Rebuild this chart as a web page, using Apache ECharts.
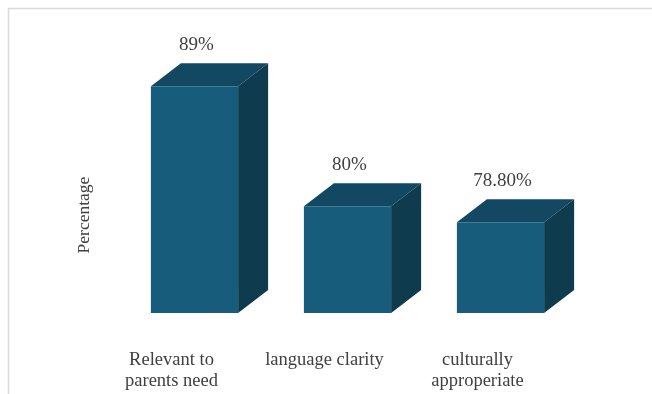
<!DOCTYPE html>
<html>
<head>
<meta charset="utf-8">
<script src="https://cdn.jsdelivr.net/npm/echarts@6/dist/echarts.min.js"></script>
<style>
  html, body { margin: 0; padding: 0; background: #ffffff; }
  #chart { width: 652px; height: 394px; }
</style>
</head>
<body>
<div id="chart"></div>
<script>
const categories = ['Relevant to\nparents need', 'language clarity', 'culturally\napproperiate'];
const values = [89, 80, 78.8];
const valueLabels = ['89%', '80%', '78.80%'];
const axisTitle = 'Percentage';
const yMin = 72;
const yMax = 90;

const FRONT = '#175d7b';
const TOP = '#124862';
const SIDE = '#0e3b4e';
const DX = 30, DY = -23;
const FONT = '"Liberation Serif", "Times New Roman", serif';

const chart = echarts.init(document.getElementById('chart'));

chart.setOption({
  animation: false,
  backgroundColor: '#ffffff',
  grid: { left: 118, right: 75, top: 73, bottom: 81 },
  xAxis: {
    type: 'category',
    data: categories,
    axisLine: { show: false },
    axisTick: { show: false },
    axisLabel: {
      interval: 0,
      hideOverlap: false,
      margin: 37,
      color: '#404040',
      fontFamily: FONT,
      fontSize: 18.5,
      lineHeight: 21,
      padding: [0, 46, 0, 0]
    }
  },
  yAxis: {
    type: 'value',
    min: yMin,
    max: yMax,
    show: false,
    splitLine: { show: false }
  },
  graphic: [
    {
      type: 'rect',
      shape: { x: 8.5, y: 8.5, width: 800, height: 600 },
      style: { fill: 'none', stroke: '#d9d9d9', lineWidth: 1.5 },
      silent: true
    },
    {
      type: 'text',
      x: 84,
      y: 215,
      rotation: Math.PI / 2,
      style: {
        text: axisTitle,
        fill: '#404040',
        font: '17.5px ' + FONT,
        align: 'center',
        verticalAlign: 'middle'
      }
    }
  ],
  series: [{
    type: 'custom',
    data: values.map((v, i) => [i, v]),
    renderItem: function (params, api) {
      const i = api.value(0);
      const v = api.value(1);
      const top = api.coord([i, v]);
      const base = api.coord([i, yMin]);
      const bw = api.size([1, 0])[0] * 0.57;
      const xl = top[0] - bw / 2;
      const xr = top[0] + bw / 2;
      const yt = top[1];
      const yb = base[1];
      return {
        type: 'group',
        children: [
          {
            type: 'polygon',
            shape: { points: [[xl, yt], [xr, yt], [xr + DX, yt + DY], [xl + DX, yt + DY]] },
            style: { fill: TOP }
          },
          {
            type: 'polygon',
            shape: { points: [[xr, yt], [xr + DX, yt + DY], [xr + DX, yb + DY], [xr, yb]] },
            style: { fill: SIDE }
          },
          {
            type: 'rect',
            shape: { x: xl, y: yt, width: bw, height: yb - yt },
            style: { fill: FRONT }
          },
          {
            type: 'text',
            x: top[0] + 2,
            y: yt - 41,
            style: {
              text: valueLabels[params.dataIndex],
              fill: '#404040',
              font: '19px ' + FONT,
              align: 'center',
              verticalAlign: 'middle'
            }
          }
        ]
      };
    }
  }]
});
</script>
</body>
</html>
